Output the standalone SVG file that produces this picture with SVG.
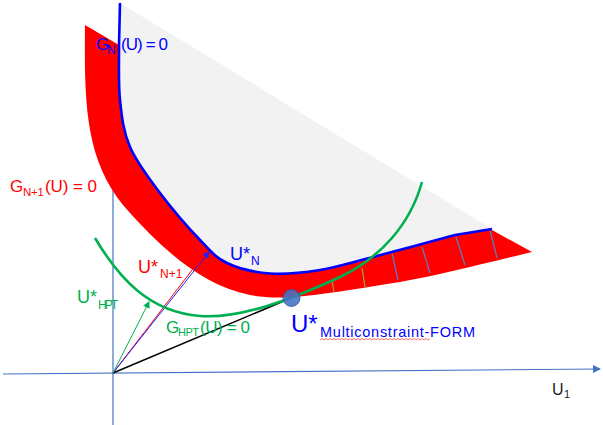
<svg xmlns="http://www.w3.org/2000/svg" width="603" height="425" viewBox="0 0 603 425">
<style>
text{font-family:"Liberation Sans",Arial,sans-serif}
.axis{stroke:#4472c4;stroke-width:1.2;fill:none}
.hatch-o{stroke:#a39b3c;stroke-width:1.3}
.hatch-b{stroke:#6279c0;stroke-width:1.3}
.blue{fill:#0000ff}
.red{fill:#ff0000}
.green{fill:#00b050}
</style>
<defs>
<marker id="ax" markerWidth="8" markerHeight="8" refX="7" refY="4" orient="auto" markerUnits="userSpaceOnUse"><path d="M0,0 L8,4 L0,8 Z" fill="#4472c4"/></marker>
<marker id="ag" markerWidth="7" markerHeight="7" refX="6" refY="3.5" orient="auto" markerUnits="userSpaceOnUse"><path d="M0,0 L7,3.5 L0,7 Z" fill="#00b050"/></marker>
<marker id="ab" markerWidth="7" markerHeight="7" refX="6" refY="3.5" orient="auto" markerUnits="userSpaceOnUse"><path d="M0,0 L7,3.5 L0,7 Z" fill="#2020ff"/></marker>
</defs>
<rect width="603" height="425" fill="#ffffff"/>
<g id="axes">
<line class="axis" x1="113" y1="425" x2="113" y2="150"/>
<line class="axis" x1="3" y1="374" x2="600" y2="369" marker-end="url(#ax)"/>
</g>
<g id="feasible-region">
<path d="M120,3 L492,229 L455,235 C437.2,239.7 395.5,251.2 373,257 C350.5,262.8 337.2,267.25 320,270 C302.8,272.75 285.5,274.7 270,273.5 C254.5,272.3 238.7,268.6 227,263 C215.3,257.4 211.2,251.7 200,240 C188.8,228.3 171.7,208.5 160,193 C148.3,177.5 136.7,162.5 130,147 C123.3,131.5 121.8,117 120,100 C118.2,83 119.2,61.7 119,45 Z" fill="#f2f2f2"/>
</g>
<g id="red-band">
<path d="M85,25 C84,110 86,165 130,213 C160,246 200,285 250,295 C285,302 330,293 400,282 C440,275 490,262 532,252 L492,230 L455,235 C437.2,239.7 395.5,251.2 373,257 C350.5,262.8 337.2,267.25 320,270 C302.8,272.75 285.5,274.7 270,273.5 C254.5,272.3 238.7,268.6 227,263 C215.3,257.4 211.2,251.7 200,240 C188.8,228.3 171.7,208.5 160,193 C148.3,177.5 136.7,162.5 130,147 C123.3,131.5 121.8,117 120,100 C118.2,83 119.2,61.7 119,45 Z" fill="#ff0000"/>
<line class="hatch-o" x1="332" y1="280" x2="334" y2="292"/>
<line class="hatch-o" x1="362" y1="268" x2="365" y2="287"/>
<line class="hatch-b" x1="392" y1="253" x2="398" y2="280"/>
<line class="hatch-b" x1="422" y1="247" x2="430" y2="273"/>
<line class="hatch-b" x1="456" y1="237" x2="465" y2="265"/>
<line class="hatch-b" x1="490" y1="230" x2="497" y2="258"/>
</g>
<g id="connectors">
<path id="GN-curve" d="M120,3 L119,45 C119.2,61.7 118.2,83 120,100 C121.8,117 123.3,131.5 130,147 C136.7,162.5 148.3,177.5 160,193 C171.7,208.5 188.8,228.3 200,240 C211.2,251.7 215.3,257.4 227,263 C238.7,268.6 254.5,272.3 270,273.5 C285.5,274.7 302.8,272.75 320,270 C337.2,267.25 350.5,262.8 373,257 C395.5,251.2 437.2,239.7 455,235 L492,229" fill="none" stroke="#0000ff" stroke-width="2.6"/>
<line x1="113" y1="373" x2="291" y2="298" stroke="#000000" stroke-width="1.6"/>
<line x1="113" y1="373" x2="199" y2="261" stroke="#ff0000" stroke-width="1"/>
<line x1="113" y1="373" x2="209" y2="252" stroke="#2020ff" stroke-width="1" marker-end="url(#ab)"/>
<line x1="113" y1="373" x2="149" y2="302" stroke="#00b050" stroke-width="1" marker-end="url(#ag)"/>
<path id="GHPT-curve" d="M95,238 C120,280 150,312 200,316 C240,319 290,300 340,277 C380,258 410,225 422,182" fill="none" stroke="#00b050" stroke-width="2.6"/>
</g>
<g id="design-point">
<circle cx="291.5" cy="298" r="8.5" fill="#4472c4" fill-opacity="0.88" stroke="#2f528f" stroke-width="0.8"/>
</g>
<g id="labels">
<text class="blue" font-size="17"><tspan x="96" y="50">G</tspan><tspan x="107" y="54" font-size="12">N</tspan><tspan x="121" y="50" textLength="47">(U) = 0</tspan></text>
<text class="red" font-size="17"><tspan x="10" y="192">G</tspan><tspan x="23" y="196" font-size="11.5" textLength="21">N+1</tspan><tspan x="45" y="192" textLength="52">(U) = 0</tspan></text>
<text class="blue" font-size="18"><tspan x="230" y="260">U*</tspan><tspan x="251" y="264.5" font-size="12">N</tspan></text>
<text class="red" font-size="18"><tspan x="138" y="272.5">U*</tspan><tspan x="160" y="277.5" font-size="12">N+1</tspan></text>
<text class="green" font-size="18"><tspan x="77" y="303">U*</tspan><tspan x="98" y="309" font-size="12" textLength="20">HPT</tspan></text>
<text class="green" font-size="17"><tspan x="166" y="333">G</tspan><tspan x="178" y="336" font-size="11" textLength="21">HPT</tspan><tspan x="200" y="333" textLength="50">(U) = 0</tspan></text>
<text class="blue"><tspan x="291" y="332" font-size="24">U*</tspan><tspan x="320" y="337" font-size="14.5" textLength="155">Multiconstraint-FORM</tspan></text>
<path d="M320,340 l2,-1.5 l2,1.5 l2,-1.5 l2,1.5 l2,-1.5 l2,1.5 l2,-1.5 l2,1.5 l2,-1.5 l2,1.5 l2,-1.5 l2,1.5 l2,-1.5 l2,1.5 l2,-1.5 l2,1.5 l2,-1.5 l2,1.5 l2,-1.5 l2,1.5 l2,-1.5 l2,1.5 l2,-1.5 l2,1.5 l2,-1.5 l2,1.5 l2,-1.5 l2,1.5 l2,-1.5 l2,1.5 l2,-1.5 l2,1.5 l2,-1.5 l2,1.5 l2,-1.5 l2,1.5 l2,-1.5 l2,1.5 l2,-1.5 l2,1.5 l2,-1.5 l2,1.5 l2,-1.5 l2,1.5 l2,-1.5 l2,1.5 l2,-1.5 l2,1.5 l2,-1.5 l2,1.5 l2,-1.5 l2,1.5 l2,-1.5 l2,1.5 l2,-1.5" fill="none" stroke="#ff3030" stroke-width="0.7"/>
<text fill="#222222" font-size="16"><tspan x="552" y="395">U</tspan><tspan x="564" y="398" font-size="11">1</tspan></text>
</g>
</svg>
